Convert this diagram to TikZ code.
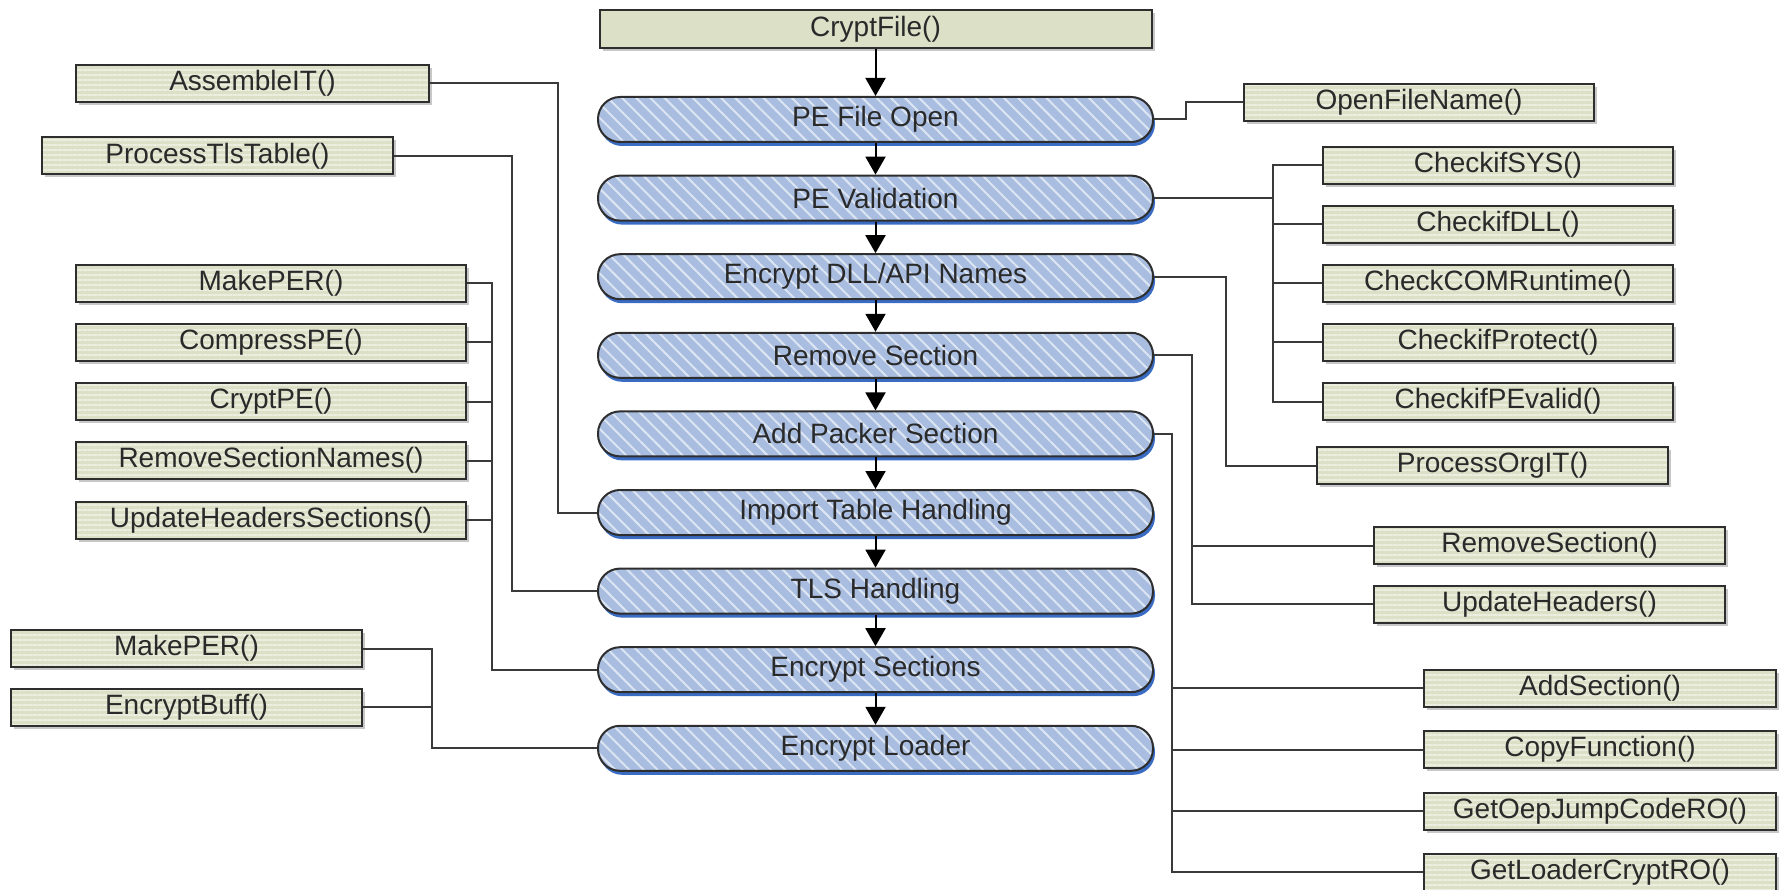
\documentclass[tikz,border=0pt]{standalone}
\usepackage{fontspec}
\setmainfont{Liberation Sans}
\usetikzlibrary{arrows.meta,patterns.meta,shadows}

\definecolor{boxfill}{HTML}{DCE0C7}
\definecolor{boxstripe}{HTML}{ECEEE0}
\definecolor{pillfill}{HTML}{A8BDE0}
\definecolor{pillstripe}{HTML}{DCE5F2}
\definecolor{pillshadow}{HTML}{3A6CC4}
\definecolor{edge}{HTML}{2E2E2E}
\definecolor{wire}{HTML}{3A3A3A}
\definecolor{ink}{HTML}{2A2A2A}

\begin{document}
\begin{tikzpicture}[x=1pt,y=-1pt,
  font=\fontsize{28}{32}\selectfont,
  fnbox/.style={rectangle, draw=edge, line width=2pt, minimum height=37pt,
    inner sep=0pt, text=ink,
    drop shadow={shadow xshift=3pt, shadow yshift=-3pt, fill=black, opacity=0.22},
    preaction={fill=boxfill},
    pattern={Lines[angle=0,distance=5pt,line width=1.6pt]}, pattern color=boxstripe},
  topbox/.style={rectangle, draw=edge, line width=2pt, minimum height=38pt,
    minimum width=552pt, inner sep=0pt, text=ink, fill=boxfill,
    drop shadow={shadow xshift=3pt, shadow yshift=-3pt, fill=black, opacity=0.22}},
  stage/.style={rectangle, rounded corners=22pt, draw=edge, line width=2pt,
    minimum width=555pt, minimum height=45pt, inner sep=0pt, text=ink,
    drop shadow={shadow xshift=2pt, shadow yshift=-4pt, fill=pillshadow, opacity=1},
    preaction={fill=pillfill},
    pattern={Lines[angle=-45,distance=10pt,line width=2pt]}, pattern color=pillstripe},
  flow/.style={draw=black, line width=2pt, -{Triangle[length=18pt,width=20pt]}},
  wirec/.style={draw=wire, line width=2pt}
]
\useasboundingbox (0,0) rectangle (1785,890);

% main column
\node[topbox] (crypt) at (875.5,29) {CryptFile()};
\node[stage] (s1) at (875.5,119.5) {PE File Open};
\node[stage] (s2) at (875.5,198.1) {PE Validation};
\node[stage] (s3) at (875.5,276.7) {Encrypt DLL/API Names};
\node[stage] (s4) at (875.5,355.3) {Remove Section};
\node[stage] (s5) at (875.5,433.9) {Add Packer Section};
\node[stage] (s6) at (875.5,512.5) {Import Table Handling};
\node[stage] (s7) at (875.5,591.1) {TLS Handling};
\node[stage] (s8) at (875.5,669.7) {Encrypt Sections};
\node[stage] (s9) at (875.5,748.3) {Encrypt Loader};

\draw[flow] (crypt.south) -- (s1.north);
\draw[flow] (s1.south) -- (s2.north);
\draw[flow] (s2.south) -- (s3.north);
\draw[flow] (s3.south) -- (s4.north);
\draw[flow] (s4.south) -- (s5.north);
\draw[flow] (s5.south) -- (s6.north);
\draw[flow] (s6.south) -- (s7.north);
\draw[flow] (s7.south) -- (s8.north);
\draw[flow] (s8.south) -- (s9.north);

% left helpers
\node[fnbox, minimum width=353pt] (asm) at (252.5,83.5) {AssembleIT()};
\node[fnbox, minimum width=351pt] (tls) at (217.5,156) {ProcessTlsTable()};
\node[fnbox, minimum width=390pt] (mkA) at (271,283.5) {MakePER()};
\node[fnbox, minimum width=390pt] (cmp) at (271,342.5) {CompressPE()};
\node[fnbox, minimum width=390pt] (cpe) at (271,401.5) {CryptPE()};
\node[fnbox, minimum width=390pt] (rsn) at (271,460.5) {RemoveSectionNames()};
\node[fnbox, minimum width=390pt] (uhs) at (271,520) {UpdateHeadersSections()};
\node[fnbox, minimum width=351pt] (mkB) at (186.5,648.5) {MakePER()};
\node[fnbox, minimum width=351pt] (ebf) at (186.5,707) {EncryptBuff()};

% right helpers
\node[fnbox, minimum width=350pt] (ofn) at (1419,102.5) {OpenFileName()};
\node[fnbox, minimum width=350pt] (csys) at (1498,165.5) {CheckifSYS()};
\node[fnbox, minimum width=350pt] (cdll) at (1498,224.5) {CheckifDLL()};
\node[fnbox, minimum width=350pt] (ccom) at (1498,283.5) {CheckCOMRuntime()};
\node[fnbox, minimum width=350pt] (cprt) at (1498,342.5) {CheckifProtect()};
\node[fnbox, minimum width=350pt] (cpev) at (1498,401.5) {CheckifPEvalid()};
\node[fnbox, minimum width=351pt] (porg) at (1492.5,465.5) {ProcessOrgIT()};
\node[fnbox, minimum width=351pt] (rsec) at (1549.5,545.5) {RemoveSection()};
\node[fnbox, minimum width=351pt] (uhd) at (1549.5,604) {UpdateHeaders()};
\node[fnbox, minimum width=352pt] (adds) at (1600,688) {AddSection()};
\node[fnbox, minimum width=352pt] (cpyf) at (1600,749.5) {CopyFunction()};
\node[fnbox, minimum width=352pt] (goep) at (1600,811) {GetOepJumpCodeRO()};
\node[fnbox, minimum width=352pt] (glc) at (1600,872) {GetLoaderCryptRO()};

% bus positions
\coordinate (xImp) at (558,0);
\coordinate (xTls) at (512,0);
\coordinate (xSec) at (492,0);
\coordinate (xLdr) at (432,0);
\coordinate (xOpen) at (1186,0);
\coordinate (xVal) at (1273,0);
\coordinate (xDll) at (1226,0);
\coordinate (xRem) at (1192,0);
\coordinate (xAdd) at (1172,0);

% left connectors
\draw[wirec] (asm.east) -- (asm.east -| xImp) |- (s6.west);
\draw[wirec] (tls.east) -- (tls.east -| xTls) |- (s7.west);
\draw[wirec] (mkA.east) -- (mkA.east -| xSec) |- (s8.west);
\draw[wirec] (cmp.east) -- (cmp.east -| xSec);
\draw[wirec] (cpe.east) -- (cpe.east -| xSec);
\draw[wirec] (rsn.east) -- (rsn.east -| xSec);
\draw[wirec] (uhs.east) -- (uhs.east -| xSec);
\draw[wirec] (mkB.east) -- (mkB.east -| xLdr) |- (s9.west);
\draw[wirec] (ebf.east) -- (ebf.east -| xLdr);

% right connectors
\draw[wirec] (s1.east) -- (s1.east -| xOpen) |- (ofn.west);
\draw[wirec] (s2.east) -- (s2.east -| xVal);
\draw[wirec] (csys.west) -- (csys.west -| xVal) -- (cpev.west -| xVal) -- (cpev.west);
\draw[wirec] (cdll.west) -- (cdll.west -| xVal);
\draw[wirec] (ccom.west) -- (ccom.west -| xVal);
\draw[wirec] (cprt.west) -- (cprt.west -| xVal);
\draw[wirec] (s3.east) -- (s3.east -| xDll) |- (porg.west);
\draw[wirec] (s4.east) -- (s4.east -| xRem) |- (uhd.west);
\draw[wirec] (rsec.west) -- (rsec.west -| xRem);
\draw[wirec] (s5.east) -- (s5.east -| xAdd) |- (glc.west);
\draw[wirec] (adds.west) -- (adds.west -| xAdd);
\draw[wirec] (cpyf.west) -- (cpyf.west -| xAdd);
\draw[wirec] (goep.west) -- (goep.west -| xAdd);
\end{tikzpicture}
\end{document}
